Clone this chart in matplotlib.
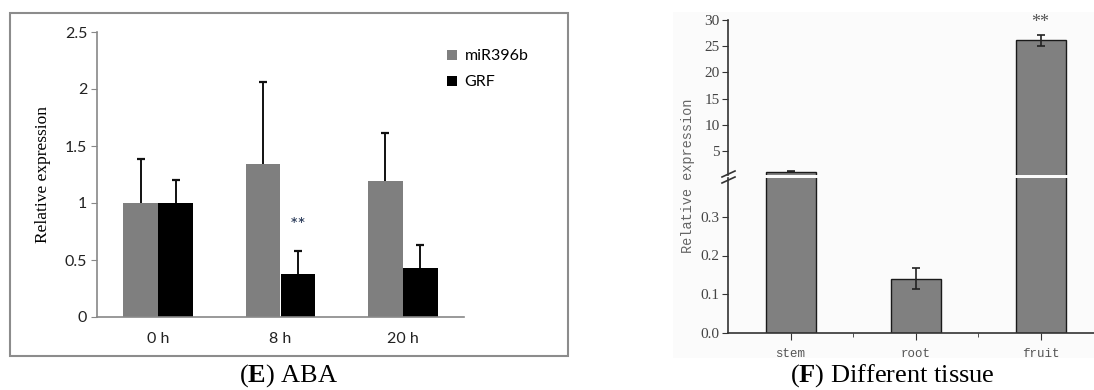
import matplotlib
matplotlib.use("Agg")
import matplotlib.pyplot as plt
from matplotlib.patches import Rectangle
from matplotlib.lines import Line2D
import numpy as np

plt.rcParams["mathtext.fontset"] = "custom"
plt.rcParams["mathtext.rm"] = "Liberation Serif"
plt.rcParams["mathtext.bf"] = "Liberation Serif:bold"

# (E) ABA
time_points = ["0 h", "8 h", "20 h"]
mir396b = [1.0, 1.34, 1.19]
mir396b_err = [0.39, 0.72, 0.42]
grf = [1.0, 0.38, 0.43]
grf_err = [0.20, 0.20, 0.20]

# (F) Different tissue
tissues = ["stem", "root", "fruit"]
tissue_expr = [1.0, 0.14, 26.1]
tissue_err = [0.1, 0.027, 1.1]

W, H = 1094, 390
fig = plt.figure(figsize=(W / 100, H / 100), dpi=100)

def fx(px):
    return px / W

def fy(py):
    return 1 - py / H

# ---------------- left panel ----------------
fig.add_artist(Rectangle((fx(10), fy(356)), fx(558), (356 - 13) / H,
                         transform=fig.transFigure, fill=False,
                         edgecolor="#8c8c8c", lw=1.5))
# faint background of the right figure
fig.add_artist(Rectangle((fx(673), fy(358)), fx(W - 673), (358 - 12) / H,
                         transform=fig.transFigure, facecolor="#fbfbfb",
                         edgecolor="none", zorder=-5))

ax = fig.add_axes([fx(97), fy(317), fx(367), 285 / H])
x = np.arange(len(time_points)) + 0.5
bw = 0.286
ax.bar(x - bw / 2, mir396b, bw, color="#7f7f7f", label="miR396b")
ax.bar(x + bw / 2, grf, bw, color="#000000", label="GRF")
# one-sided error bars (no cap at the bar top)
for xs, vals, errs in [(x - bw / 2, mir396b, mir396b_err), (x + bw / 2, grf, grf_err)]:
    tops = np.array(vals) + np.array(errs)
    ax.vlines(xs, vals, tops, color="#111", lw=1.4, zorder=3)
    ax.plot(xs, tops, ls="none", marker="_", ms=6, mew=1.6, color="#111", zorder=3)
ax.text(x[1] + bw / 2, 0.8, "**", ha="center", va="center", fontsize=14,
        color="#1f3050", family="Lato")
ax.set_xlim(0, 3)
ax.set_ylim(0, 2.5)
ax.set_yticks([0, 0.5, 1, 1.5, 2, 2.5])
ax.set_yticklabels(["0", "0.5", "1", "1.5", "2", "2.5"], family="Lato", fontsize=11.5, color="#222")
ax.set_xticks(x)
ax.set_xticklabels(time_points, family="Lato", fontsize=11.5, color="#222")
ax.tick_params(axis="x", length=0, pad=11)
ax.tick_params(axis="y", length=4, color="#888", direction="out", pad=3)
for s in ["top", "right"]:
    ax.spines[s].set_visible(False)
for s in ["left", "bottom"]:
    ax.spines[s].set_color("#888")
    ax.spines[s].set_linewidth(1.2)
ax.set_ylabel("Relative expression", family="Liberation Serif", fontsize=12.5, labelpad=10)
ax.legend(loc="upper left", bbox_to_anchor=(0.915, 0.99), frameon=False,
          prop=dict(family="Lato", size=11.5), handlelength=0.6, handleheight=0.6,
          handletextpad=0.5, labelspacing=0.75)

fig.text(fx(289), fy(376), r"($\mathbf{E}$) ABA", ha="center", va="center",
         family="Liberation Serif", fontsize=19)

# ---------------- right panel ----------------
tx = np.arange(1, len(tissues) + 1)
tw = 0.4
mono = "Liberation Mono"
serif = "Liberation Serif"

ax_top = fig.add_axes([fx(728), fy(175), fx(366), 155 / H])
ax_bot = fig.add_axes([fx(728), fy(333), fx(366), 155 / H])
for a in (ax_top, ax_bot):
    a.bar(tx, tissue_expr, tw, color="#808080", edgecolor="#1a1a1a", lw=1.0)
    a.set_xlim(0.5, 0.5 + 366 / 125)
    a.spines["top"].set_visible(False)
    a.spines["right"].set_visible(False)
    a.spines["left"].set_color("#333")
    a.spines["left"].set_linewidth(1.2)
    a.tick_params(axis="y", length=4, color="#333", labelsize=11, labelcolor="#444", pad=2)
    a.patch.set_alpha(0)

# error bars: stem and fruit on the upper part, root on the lower part
te = np.array(tissue_expr)
tr = np.array(tissue_err)
ekw = dict(fmt="none", ecolor="#222", elinewidth=1.2, capsize=3, capthick=1.2)
ax_top.errorbar(tx[[0, 2]], te[[0, 2]], yerr=tr[[0, 2]], **ekw)
ax_bot.errorbar(tx[[1]], te[[1]], yerr=tr[[1]], **ekw)

ax_top.set_ylim(0.4, 30)
ax_top.set_yticks([5, 10, 15, 20, 25, 30])
ax_top.spines["bottom"].set_visible(False)
ax_top.set_xticks([])
for lab in ax_top.get_yticklabels():
    lab.set_family(serif)
ax_top.text(tx[2], 29.6, "**", ha="center", va="center", fontsize=13,
            color="#555", family=serif)

ax_bot.set_ylim(0, 0.4)
ax_bot.set_yticks([0, 0.1, 0.2, 0.3])
ax_bot.set_yticklabels(["0.0", "0.1", "0.2", "0.3"], family=serif)
ax_bot.spines["bottom"].set_color("#333")
ax_bot.spines["bottom"].set_linewidth(1.2)
ax_bot.set_xticks(tx)
ax_bot.set_xticklabels(tissues, family=mono, fontsize=9, color="#555")
ax_bot.set_xticks([1.5, 2.5], minor=True)
ax_bot.tick_params(axis="x", which="major", length=5, color="#333", pad=6)
ax_bot.tick_params(axis="x", which="minor", length=3, color="#333")

fig.text(fx(688), fy(176), "Relative expression", rotation=90, ha="center", va="center",
         family=mono, fontsize=9.8, color="#666")

# axis break marks
for dy in (0, 6):
    fig.add_artist(Line2D([fx(722), fx(735)], [fy(180 + dy - 3), fy(174 + dy - 3)],
                          transform=fig.transFigure, color="#333", lw=1.2))

fig.text(fx(892), fy(376), r"($\mathbf{F}$) Different tissue", ha="center", va="center",
         family=serif, fontsize=19)

fig.savefig("out.png", dpi=100)
